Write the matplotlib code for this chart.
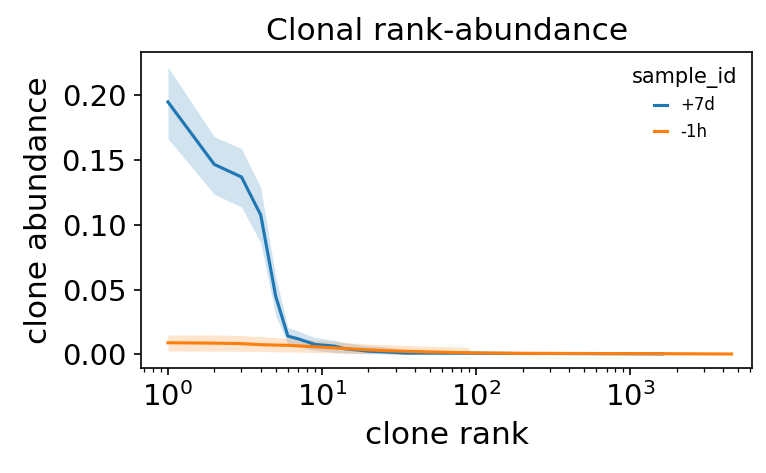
import matplotlib
matplotlib.use("Agg")
import matplotlib.pyplot as plt
import numpy as np

plt.rcParams['font.family'] = ['DejaVu Sans']

# +7d sample
rank_7d = [1, 2, 3, 4, 5, 6, 7, 9, 12, 14, 20, 25, 34, 50, 90, 200, 500, 1000, 1620]
mean_7d = [0.195, 0.1467, 0.137, 0.1076, 0.045, 0.0141, 0.012, 0.0077, 0.0064, 0.0044,
           0.0025, 0.0020, 0.0010, 0.0010, 0.0009, 0.0007, 0.0006, 0.0005, 0.0004]
lo_7d = [0.1666, 0.1236, 0.1138, 0.0862, 0.030, 0.008, 0.006, 0.003, 0.0015, 0.001,
         0.0005, 0.0003, 0.0002, 0.0002, 0.0002, 0.0002, 0.0002, 0.0002, 0.0002]
hi_7d = [0.222, 0.168, 0.159, 0.1287, 0.060, 0.0208, 0.018, 0.013, 0.011, 0.009,
         0.0066, 0.0060, 0.0040, 0.0030, 0.0025, 0.0015, 0.0012, 0.0010, 0.0008]

# -1h sample
rank_1h = [1, 2, 3, 4, 5, 6, 8, 10, 14, 20, 30, 50, 90, 200, 500, 1000, 2000, 4530]
mean_1h = [0.0090, 0.0087, 0.0083, 0.0075, 0.0072, 0.0070, 0.0062, 0.0056, 0.0045, 0.0035,
           0.0026, 0.0019, 0.0012, 0.0008, 0.0007, 0.0006, 0.0005, 0.0003]
lo_1h = [0.0026, 0.0025, 0.0024, 0.0022, 0.0020, 0.0019, 0.0016, 0.0013, 0.0010, 0.0007,
         0.0005, 0.0003, 0.0002, 0.0008, 0.0007, 0.0006, 0.0005, 0.0003]
hi_1h = [0.0149, 0.0150, 0.0146, 0.0138, 0.0130, 0.0124, 0.0115, 0.0105, 0.0092, 0.0080,
         0.0072, 0.0063, 0.0054, 0.0008, 0.0007, 0.0006, 0.0005, 0.0003]
band_end_1h = 90

fig = plt.figure(figsize=(766/150, 473/150), dpi=150)
ax = fig.add_axes([0.184, 0.222, 0.798, 0.668])

for r, m, lo, hi, c, lab, end in [(rank_7d, mean_7d, lo_7d, hi_7d, 'C0', '+7d', max(rank_7d)),
                                   (rank_1h, mean_1h, lo_1h, hi_1h, 'C1', '-1h', band_end_1h)]:
    ax.plot(r, m, color=c, lw=1.5, label=lab)
    ax.fill_between(r, lo, hi, where=np.asarray(r) <= end, color=c, alpha=0.2, lw=0)

ax.set_xscale('log')
ax.set_xlim(10**-0.175, 10**3.79)
ax.set_ylim(-0.0105, 0.2335)
ax.set_yticks([0.0, 0.05, 0.10, 0.15, 0.20])
ax.tick_params(labelsize=14)
ax.set_xlabel('clone rank', fontsize=15)
ax.set_ylabel('clone abundance', fontsize=15)
ax.set_title('Clonal rank-abundance', fontsize=15)
leg = ax.legend(title='sample_id', fontsize=8, title_fontsize=10, frameon=False,
                loc='upper right', handlelength=0.8)

fig.savefig('out.png', dpi=150)
